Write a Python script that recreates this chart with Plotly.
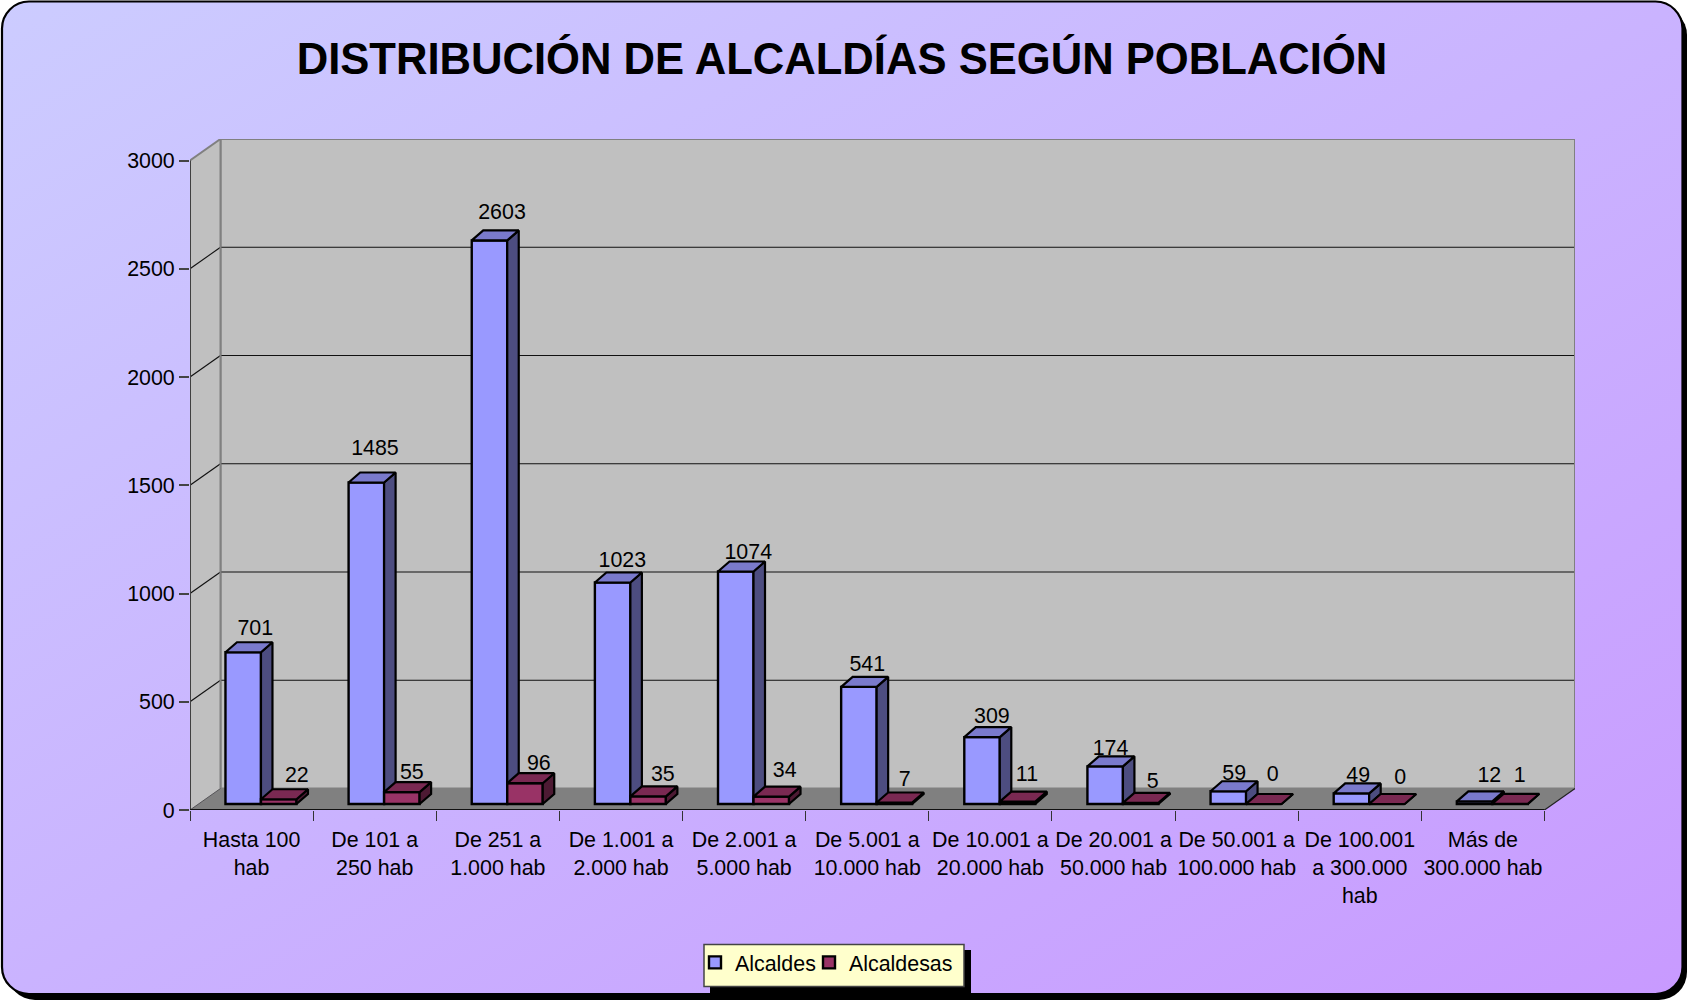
import base64
import plotly.graph_objects as go

# ---------- data ----------
categories = ["Hasta 100<br>hab", "De 101 a<br>250 hab", "De 251 a<br>1.000 hab", "De 1.001 a<br>2.000 hab",
              "De 2.001 a<br>5.000 hab", "De 5.001 a<br>10.000 hab", "De 10.001 a<br>20.000 hab",
              "De 20.001 a<br>50.000 hab", "De 50.001 a<br>100.000 hab", "De 100.001<br>a 300.000<br>hab",
              "Más de<br>300.000 hab"]
alcaldes = [701, 1485, 2603, 1023, 1074, 541, 309, 174, 59, 49, 12]
alcaldesas = [22, 55, 96, 35, 34, 7, 11, 5, 0, 0, 1]
y_ticks = [0, 500, 1000, 1500, 2000, 2500, 3000]
title_text = "DISTRIBUCIÓN DE ALCALDÍAS SEGÚN POBLACIÓN"

# ---------- page geometry (pixels) ----------
W, H = 1688, 1001
X_FRONT, X_FRONT_END, X_BACK_END = 190.0, 1544.5, 1575.0
Y_ZERO, Y_3000, Y_BACK_TOP = 810.0, 160.5, 139.0
n = len(categories)
px_x = (X_FRONT_END - X_FRONT) / n
px_y = (Y_ZERO - Y_3000) / 3000
x_lo = -0.5
y_hi = (Y_ZERO - Y_BACK_TOP) / px_y
x_hi = x_lo + (X_BACK_END - X_FRONT) / px_x
wall_dx = (X_BACK_END - X_FRONT_END) / px_x
wall_dy = (Y_3000 - Y_BACK_TOP) / px_y

# bar geometry
bar_w = 35.5 / px_x
bar_split = 9.4 / px_x
bar_base = 6.0 / px_y
d_x = 11.5 / px_x
d_y = 10.0 / px_y

# label nudges (pixels) relative to bar centre / bar back-top
lab_dx_blue = [12.1, 8.6, 12.5, 9.7, 12.5, 8.4, 9.9, 5.4, 5.9, 6.8, 14.7]
lab_dy_blue = [12.6, 23, 16.5, 10.5, 7.5, 11, 9, 7, 7, 7, 15]
lab_dx_red = [18.1, 10, 13.8, 14.7, 13.5, 10.4, 9.4, 12.1, 9, 13.3, 9.7]
lab_dy_red = [13, 8, 9, 10.4, 14.6, 11.5, 15.6, 10.5, 18, 15, 16.8]

FONT = "Liberation Sans, Arial, sans-serif"
FS = 21.4

# ---------- background as SVG ----------
svg = f'''<svg xmlns="http://www.w3.org/2000/svg" width="{W}" height="{H}" viewBox="0 0 {W} {H}">
<defs><linearGradient id="g" x1="0" y1="0" x2="1" y2="1">
<stop offset="0" stop-color="#ccccff"/><stop offset="1" stop-color="#c89aff"/></linearGradient></defs>
<rect width="{W}" height="{H}" fill="#ffffff"/>
<rect x="7" y="7" width="1680" height="993" rx="28" ry="28" fill="#000000"/>
<rect x="2" y="1.5" width="1680.5" height="992.5" rx="27" ry="27" fill="url(#g)" stroke="#000000" stroke-width="2.2"/>
</svg>'''
bg_src = "data:image/svg+xml;base64," + base64.b64encode(svg.encode()).decode()


def poly(points):
    return "M" + " L".join(f"{a},{b}" for a, b in points) + " Z"


def line_shape(x0, y0, x1, y1, color, width):
    return dict(type="line", xref="x", yref="y", x0=x0, y0=y0, x1=x1, y1=y1,
                line=dict(color=color, width=width), layer="below")


bx, by = x_lo + wall_dx, wall_dy
ex = x_lo + n
shapes = [
    dict(type="path", xref="x", yref="y", layer="below", fillcolor="#c0c0c0",
         path=poly([(bx, by), (x_hi, by), (x_hi, y_hi), (bx, y_hi)]), line=dict(color="#808080", width=2)),
    dict(type="path", xref="x", yref="y", layer="below", fillcolor="#c0c0c0",
         path=poly([(x_lo, 0), (bx, by), (bx, y_hi), (x_lo, 3000)]), line=dict(width=0)),
    dict(type="path", xref="x", yref="y", layer="below", fillcolor="#808080",
         path=poly([(x_lo, 0), (ex, 0), (x_hi, by), (bx, by)]), line=dict(width=0)),
]
for v in y_ticks[1:-1]:
    shapes.append(line_shape(x_lo, v, bx, v + wall_dy, "#111111", 1.1))
    shapes.append(line_shape(bx, v + wall_dy, x_hi, v + wall_dy, "#111111", 1.1))
shapes += [
    line_shape(x_lo, 3000, bx, y_hi, "#808080", 2),
    line_shape(bx, by, bx, y_hi, "#808080", 2),
    line_shape(x_hi, by, x_hi, y_hi, "#808080", 2),
    line_shape(ex, 0, x_hi, by, "#222222", 1.2),
    line_shape(x_lo, 0, bx, by, "#555555", 1),
    line_shape(x_lo, 0, x_lo, 3000, "#404040", 2),
    line_shape(x_lo, 0, ex, 0, "#111111", 2),
]
# legend drop shadow and box
shapes.append(dict(type="rect", xref="paper", yref="paper", x0=710 / W, x1=971 / W, y0=1 - 993 / H, y1=1 - 950 / H,
                   fillcolor="#000000", line=dict(width=0), layer="above"))
shapes.append(dict(type="rect", xref="paper", yref="paper", x0=704 / W, x1=964 / W, y0=1 - 986.5 / H, y1=1 - 944.5 / H,
                   fillcolor="#ffffcc", line=dict(color="#444444", width=1.5), layer="above"))


def faces(values, lefts):
    side_x, side_y, top_x, top_y = [], [], [], []
    for v, l in zip(values, lefts):
        r = l + bar_w
        t = v + bar_base
        side_x += [r, r + d_x, r + d_x, r, r, None]
        side_y += [bar_base, bar_base + d_y, t + d_y, t, bar_base, None]
        top_x += [l, r, r + d_x, l + d_x, l, None]
        top_y += [t, t, t + d_y, t + d_y, t, None]
    return side_x, side_y, top_x, top_y


def add_series(fig, name, values, lefts, front, side, top, xa, ya, legend_id):
    fig.add_trace(go.Bar(name=name, x=[l + bar_w / 2 for l in lefts], y=values, base=bar_base, width=bar_w,
                         marker=dict(color=front, line=dict(color="#000000", width=2.4)),
                         xaxis=xa, yaxis=ya, hoverinfo="name+y", legend=legend_id, showlegend=True))
    sx, sy, tx, ty = faces(values, lefts)
    for fx, fy, col in ((sx, sy, side), (tx, ty, top)):
        fig.add_trace(go.Scatter(x=fx, y=fy, mode="lines", fill="toself", fillcolor=col,
                                 line=dict(color="#000000", width=2.2), showlegend=False,
                                 hoverinfo="skip", xaxis=xa, yaxis=ya))


fig = go.Figure()
lefts_blue = [i + bar_split - bar_w for i in range(n)]
lefts_red = [i + bar_split for i in range(n)]
add_series(fig, "Alcaldes", alcaldes, lefts_blue, "#9999ff", "#4d4d80", "#7a7acc", "x", "y", "legend")
add_series(fig, "Alcaldesas", alcaldesas, lefts_red, "#993366", "#4d1a33", "#7a2952", "x2", "y2", "legend2")

for values, lefts, ldx, ldy in ((alcaldes, lefts_blue, lab_dx_blue, lab_dy_blue),
                                (alcaldesas, lefts_red, lab_dx_red, lab_dy_red)):
    fig.add_trace(go.Scatter(
        x=[l + bar_w / 2 + dx / px_x for l, dx in zip(lefts, ldx)],
        y=[v + bar_base + d_y + dy / px_y for v, dy in zip(values, ldy)],
        mode="text", text=[str(v) for v in values], textposition="middle center",
        textfont=dict(family=FONT, size=FS, color="#000000"),
        showlegend=False, hoverinfo="skip", xaxis="x2", yaxis="y2", cliponaxis=False))

dom_x = [X_FRONT / W, X_BACK_END / W]
dom_y = [1 - Y_ZERO / H, 1 - Y_BACK_TOP / H]
legend_common = dict(orientation="h", xanchor="left", yanchor="top", bgcolor="rgba(0,0,0,0)", borderwidth=0,
                     font=dict(family=FONT, size=FS, color="#000000"), itemwidth=30,
                     itemclick=False, itemdoubleclick=False)
fig.update_layout(
    width=W, height=H, autosize=False, margin=dict(l=0, r=0, t=0, b=0, pad=0, autoexpand=False),
    paper_bgcolor="rgba(0,0,0,0)", plot_bgcolor="rgba(0,0,0,0)",
    barmode="overlay", shapes=shapes,
    images=[dict(source=bg_src, xref="paper", yref="paper", x=0, y=1, sizex=1, sizey=1,
                 sizing="stretch", xanchor="left", yanchor="top", layer="below")],
    title=dict(text=f"<b>{title_text}</b>", x=842 / W, y=1 - 59 / H, xref="paper", yref="paper",
               xanchor="center", yanchor="middle", font=dict(family=FONT, size=43.6, color="#000000")),
    font=dict(family=FONT, size=FS, color="#000000"),
    xaxis=dict(domain=dom_x, range=[x_lo, x_hi], tickmode="array", tickvals=list(range(n)), ticktext=categories,
               ticks="", showgrid=False, showline=False, zeroline=False, tickangle=0, ticklabelstandoff=15,
               tickfont=dict(family=FONT, size=FS, color="#000000"),
               minor=dict(tickmode="array", tickvals=[x_lo + i for i in range(n + 1)], ticks="outside",
                          ticklen=10, tickwidth=1.2, tickcolor="#333333", showgrid=False)),
    yaxis=dict(domain=dom_y, range=[0, y_hi], tickmode="array", tickvals=y_ticks, ticks="outside", ticklen=10,
               tickwidth=1.5, tickcolor="#444444", showgrid=False, showline=False, zeroline=False,
               tickfont=dict(family=FONT, size=FS, color="#000000")),
    xaxis2=dict(domain=dom_x, range=[x_lo, x_hi], overlaying="x", anchor="y2", visible=False),
    yaxis2=dict(domain=dom_y, range=[0, y_hi], overlaying="y", anchor="x2", visible=False),
    legend=dict(x=695 / W, y=1 - 942 / H, **legend_common),
    legend2=dict(x=809 / W, y=1 - 942 / H, **legend_common),
)
fig.write_html("out.html", config=dict(displayModeBar=False),
               post_script="document.body.style.margin='0';document.body.style.overflow='hidden';")
